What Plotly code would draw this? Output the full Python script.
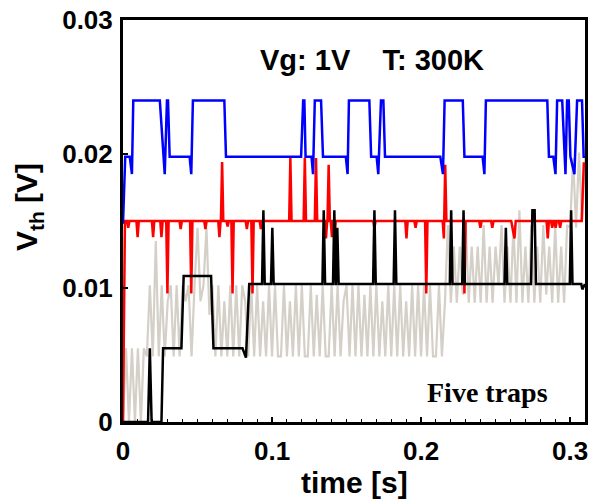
import numpy as np
import plotly.graph_objects as go

# ---- data (time in s, threshold-voltage shift in mV) ----
# Trap 1 (blue): two-level switching 19.8 <-> 24.0 mV with short dips
BLUE_T = [0, 0.0015, 0.0045, 0.006, 0.0069, 0.0247, 0.028, 0.0295, 0.0302, 0.0313,
          0.0447, 0.0458, 0.0469, 0.068, 0.0691, 0.1195, 0.1209, 0.1217, 0.1225, 0.1265,
          0.1275, 0.1287, 0.1329, 0.1342, 0.1495, 0.1507, 0.1516, 0.1653, 0.1665, 0.1702,
          0.1713, 0.1731, 0.1747, 0.1758, 0.2129, 0.2147, 0.2158, 0.228, 0.2291, 0.2413,
          0.2425, 0.2435, 0.2847, 0.2858, 0.2887, 0.2902, 0.2913, 0.2947, 0.2969, 0.298,
          0.2991, 0.3002, 0.3029, 0.3047, 0.308, 0.3091, 0.31]
BLUE_MV = [14.8, 19.8, 19.8, 18.5, 24.0, 24.0, 18.5, 24.0, 24.0, 19.8,
           19.8, 18.5, 24.0, 24.0, 19.8, 19.8, 24.0, 24.0, 19.8, 19.8,
           18.5, 24.0, 24.0, 19.8, 19.8, 18.5, 24.0, 24.0, 19.8, 19.8,
           18.5, 24.0, 24.0, 19.8, 19.8, 18.5, 24.0, 24.0, 19.8, 19.8,
           18.5, 24.0, 24.0, 19.8, 19.8, 18.5, 24.0, 24.0, 18.5, 24.0,
           24.0, 19.8, 18.5, 24.0, 24.0, 19.8, 19.8]

# Trap 2 (red): baseline 15.0 mV with short capture/emission events
RED_BASE = 15.0
RED_HEAD_T, RED_HEAD_MV = [0, 0.0013], [0, 15.0]
RED_EVENT_T = [0.0035, 0.0098, 0.0202, 0.0258, 0.0298, 0.0387, 0.0458, 0.0553, 0.0647, 0.0665,
               0.0702, 0.0735, 0.0831, 0.0869, 0.0925, 0.1123, 0.1220, 0.1295, 0.1362, 0.1380,
               0.1402, 0.1420, 0.1687, 0.1902, 0.1963, 0.2035, 0.2153, 0.2162, 0.2291, 0.2398,
               0.2478, 0.2613, 0.2627, 0.2850, 0.2880, 0.2903, 0.2933]
RED_EVENT_MV = [14.5, 13.8, 13.8, 13.8, 9.6, 14.4, 9.6, 14.4, 13.8, 19.4,
                14.6, 9.6, 14.4, 9.6, 14.4, 19.7, 19.7, 19.7, 13.7, 19.2,
                13.8, 13.8, 14.5, 13.7, 14.5, 9.6, 13.7, 19.2, 9.6, 14.5,
                14.5, 14.5, 13.7, 13.7, 14.5, 14.5, 14.5]
RED_TAIL_T, RED_TAIL_MV = [0.3078, 0.3092, 0.31], [15.0, 19.3, 19.3]

# Trap 3 (black): staircase at start, then baseline 10.3 mV with spikes
BLACK_HEAD_T = [0, 0.0168, 0.0180, 0.0192, 0.0258, 0.0269, 0.0392, 0.0407, 0.0591, 0.0607,
                0.0802, 0.0825, 0.0847]
BLACK_HEAD_MV = [0, 0, 5.5, 0, 0, 5.5, 5.5, 10.9, 10.9, 5.5, 5.5, 4.8, 10.3]
BLACK_BASE = 10.3
BLACK_PEAK_T = [0.0942, 0.1002, 0.1347, 0.1418, 0.1438, 0.1687, 0.1825, 0.2202, 0.2285, 0.2569,
                0.2747, 0.2762, 0.3007]
BLACK_PEAK_MV = [15.8, 14.5, 15.8, 15.8, 14.5, 15.8, 15.8, 15.8, 15.8, 14.5,
                 15.8, 15.8, 15.8]
BLACK_TAIL_T, BLACK_TAIL_MV = [0.3075, 0.3082, 0.31], [10.3, 9.9, 10.3]

# Combined signal (grey), sampled every 2 ms
GRAY_DT = 0.002
GRAY_MV = [
    0, 5.5, 0, 5.5, 0, 5.5, 0, 5.5,
    4.9, 10.2, 4.9, 13.5, 4.9, 10.2, 4.9, 9.0, 10.2, 4.9,
    10.2, 4.9, 10.2, 9.0, 10.2, 4.9, 10.2, 14.5, 9.0, 10.2,
    14.5, 8.0, 10.2, 4.9, 10.2, 4.9, 9.0, 4.9, 10.2, 4.9,
    10.2, 4.9, 10.2, 9.0, 4.9, 10.2, 4.9, 10.2, 4.9, 9.0,
    4.9, 10.2, 4.9, 10.2, 4.9, 4.9, 10.2, 4.9, 9.0, 4.9,
    10.2, 4.9, 10.2, 4.9, 4.9, 10.2, 4.9, 9.5, 4.9, 10.2,
    4.9, 4.9, 10.2, 4.9, 10.2, 4.9, 9.0, 10.2, 4.9, 10.2,
    4.9, 10.2, 4.9, 9.5, 4.9, 10.2, 4.9, 10.2, 4.9, 9.0,
    4.9, 10.2, 4.9, 10.2, 4.9, 10.2, 4.9, 9.0, 4.9, 10.2,
    4.9, 10.2, 4.9, 10.2, 4.9, 10.2, 4.9, 4.9, 10.2, 4.9,
    8.9, 14.7, 8.9, 13.1, 8.9, 13.1, 9.5, 14.7, 8.9, 13.1,
    8.9, 13.1, 8.9, 14.7, 8.9, 13.1, 8.9, 13.1, 10.2, 14.7,
    8.9, 13.1, 8.9, 14.7, 8.9, 15.8, 8.9, 13.1, 8.9, 14.7,
    8.9, 13.1, 8.9, 14.7, 9.5, 13.1, 8.9, 14.7, 8.9, 13.1,
    8.9, 14.7,
    14.5, 19.7, 14.5, 20.1, 15.0, 19.7,
]

X_TICKS = [0, 0.1, 0.2, 0.3]
X_TICK_TEXT = ["0", "0.1", "0.2", "0.3"]
Y_TICKS = [0, 0.01, 0.02, 0.03]
Y_TICK_TEXT = ["0", "0.01", "0.02", "0.03"]


def with_events(base, ev_t, ev_mv, half):
    """Baseline trace with a short triangular excursion at each event time."""
    ts, vs = [], []
    n = len(ev_t)
    for i, (t, v) in enumerate(zip(ev_t, ev_mv)):
        if i == 0 or t - ev_t[i - 1] > 2 * half:
            ts.append(t - half)
            vs.append(base)
        ts.append(t)
        vs.append(v)
        if i == n - 1 or ev_t[i + 1] - t > 2 * half:
            ts.append(t + half)
            vs.append(base)
    return ts, vs


red_ev_t, red_ev_mv = with_events(RED_BASE, RED_EVENT_T, RED_EVENT_MV, 0.0008)
red_t = RED_HEAD_T + red_ev_t + RED_TAIL_T
red_v = np.array(RED_HEAD_MV + red_ev_mv + RED_TAIL_MV) / 1000

blk_ev_t, blk_ev_mv = with_events(BLACK_BASE, BLACK_PEAK_T, BLACK_PEAK_MV, 0.0009)
black_t = BLACK_HEAD_T + blk_ev_t + BLACK_TAIL_T
black_v = np.array(BLACK_HEAD_MV + blk_ev_mv + BLACK_TAIL_MV) / 1000

gray_t = np.round(np.arange(len(GRAY_MV)) * GRAY_DT, 4)
gray_v = np.array(GRAY_MV) / 1000

blue_v = np.array(BLUE_MV) / 1000

fig = go.Figure()
fig.add_trace(go.Scatter(x=gray_t, y=gray_v, mode="lines",
                         line=dict(color="#d4d0c8", width=2.2)))
fig.add_trace(go.Scatter(x=red_t, y=red_v, mode="lines",
                         line=dict(color="#ff0000", width=2.5)))
fig.add_trace(go.Scatter(x=black_t, y=black_v, mode="lines",
                         line=dict(color="#000000", width=2.5)))
fig.add_trace(go.Scatter(x=BLUE_T, y=blue_v, mode="lines",
                         line=dict(color="#0000ff", width=2.5)))

font_sans = "Liberation Sans, Arial, Helvetica, sans-serif"

fig.update_layout(
    width=593, height=500,
    margin=dict(l=123, r=5, t=16, b=78),
    plot_bgcolor="white", paper_bgcolor="white",
    showlegend=False,
    font=dict(family=font_sans, size=26, color="black"),
    xaxis=dict(
        range=[0, 0.31], tickvals=X_TICKS, ticktext=X_TICK_TEXT,
        ticks="inside", ticklen=5, tickwidth=1.5, tickcolor="black",
        minor=dict(ticks="inside", dtick=0.01, ticklen=3, tickcolor="black", tickwidth=1),
        showline=True, linewidth=3, linecolor="black", mirror=True,
        showgrid=False, zeroline=False,
        tickfont=dict(family=font_sans, size=26, weight="bold"),
        ticklabelstandoff=4,
    ),
    yaxis=dict(
        range=[0, 0.03], tickvals=Y_TICKS, ticktext=Y_TICK_TEXT,
        ticks="inside", ticklen=5, tickwidth=1.5, tickcolor="black",
        showline=True, linewidth=3, linecolor="black", mirror=True,
        showgrid=False, zeroline=False,
        tickfont=dict(family=font_sans, size=26, weight="bold"),
        ticklabelstandoff=2,
    ),
    annotations=[
        dict(text="time [s]", xref="paper", yref="paper", x=0.501, y=-0.150,
             xanchor="center", yanchor="middle", showarrow=False,
             font=dict(family=font_sans, size=30, weight="bold")),
        dict(text="V<sub>th</sub> [V]", xref="paper", yref="paper", x=-0.204, y=0.534,
             xanchor="center", yanchor="middle", textangle=-90, showarrow=False,
             font=dict(family=font_sans, size=30, weight="bold")),
        dict(text="Vg: 1V\u00a0\u00a0\u00a0\u00a0T: 300K", xref="paper", yref="paper",
             x=0.54, y=0.901, xanchor="center", yanchor="middle", showarrow=False,
             font=dict(family=font_sans, size=29, weight="bold")),
        dict(text="Five traps", xref="paper", yref="paper", x=0.789, y=0.074,
             xanchor="center", yanchor="middle", showarrow=False,
             font=dict(family="Liberation Serif, Times New Roman, serif", size=28,
                       weight="bold")),
    ],
)

fig.write_html("out.html")
